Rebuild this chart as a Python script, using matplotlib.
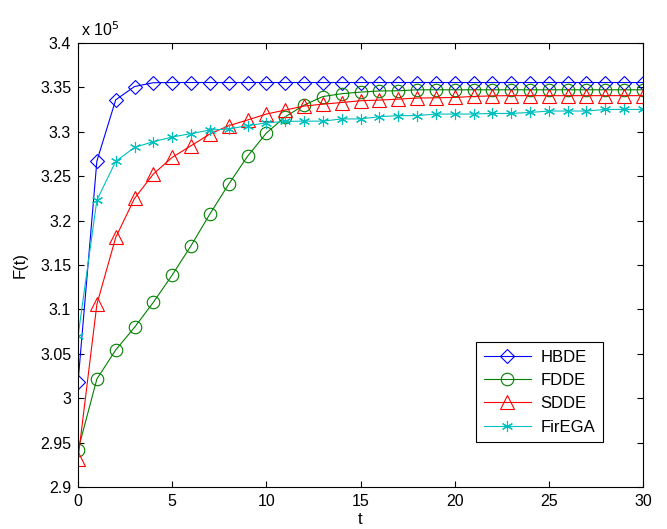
import numpy as np
import matplotlib.pyplot as plt
from matplotlib.ticker import FuncFormatter

plt.rcParams['font.family'] = ['Liberation Sans', 'DejaVu Sans']

# Iterations
t = np.arange(0, 31)

# Best fitness per iteration (units of 1e5)
hbde = [3.018, 3.267, 3.336, 3.351, 3.3553, 3.3555, 3.3555, 3.3555, 3.3555, 3.3555,
        3.3555, 3.3555, 3.3555, 3.3555, 3.3555, 3.3555, 3.3555, 3.3555, 3.3555, 3.3555,
        3.3555, 3.3555, 3.3555, 3.3555, 3.3555, 3.3555, 3.3555, 3.3555, 3.3555, 3.3555, 3.3555]
fdde = [2.9417, 3.0216, 3.0543, 3.0798, 3.108, 3.1387, 3.1717, 3.2074, 3.241, 3.2724,
        3.2986, 3.3169, 3.330, 3.3397, 3.3429, 3.3447, 3.346, 3.3462, 3.3473, 3.3473,
        3.3473, 3.3473, 3.3473, 3.3473, 3.3473, 3.3473, 3.3473, 3.3473, 3.3473, 3.3473, 3.3473]
sdde = [2.932, 3.1057, 3.181, 3.225, 3.2525, 3.2712, 3.2843, 3.2975, 3.3069, 3.3133,
        3.320, 3.3245, 3.329, 3.3311, 3.333, 3.335, 3.3357, 3.3368, 3.338, 3.3383,
        3.3387, 3.3398, 3.3405, 3.3407, 3.3407, 3.3407, 3.3407, 3.3407, 3.3407, 3.3407, 3.3407]
firega = [3.070, 3.223, 3.2667, 3.2824, 3.2889, 3.2941, 3.298, 3.302, 3.3031, 3.307,
          3.310, 3.3117, 3.3120, 3.3120, 3.3145, 3.3145, 3.317, 3.3182, 3.3182, 3.320,
          3.320, 3.320, 3.3207, 3.3207, 3.3218, 3.3234, 3.3234, 3.3234, 3.3252, 3.3252, 3.3252]

scale = 1e5

fig = plt.figure(figsize=(6.67, 5.29), dpi=100)
ax = fig.add_axes([0.117, 0.0794, 0.847, 0.8393])

lw = 0.8
ax.plot(t, np.array(hbde) * scale, color=(0, 0, 1), lw=lw, marker='D', ms=7,
        mfc='none', mec=(0, 0, 1), mew=0.8, label='HBDE')
ax.plot(t, np.array(fdde) * scale, color=(0, 0.5, 0), lw=lw, marker='o', ms=9,
        mfc='none', mec=(0, 0.5, 0), mew=0.8, label='FDDE')
ax.plot(t, np.array(sdde) * scale, color=(1, 0, 0), lw=lw, marker='^', ms=10,
        mfc='none', mec=(1, 0, 0), mew=0.8, label='SDDE')
ax.plot(t, np.array(firega) * scale, color=(0, 0.75, 0.75), lw=lw, marker=(6, 2, 0), ms=8,
        mec=(0, 0.75, 0.75), mew=0.8, label='FirEGA')

ax.set_xlim(0, 30)
ax.set_ylim(2.9 * scale, 3.4 * scale)
ax.set_xticks(np.arange(0, 31, 5))
ax.set_yticks(np.arange(2.9, 3.4001, 0.05) * scale)
ax.yaxis.set_major_formatter(FuncFormatter(lambda v, p: f'{v / scale:g}'))
ax.tick_params(direction='in', top=True, right=True, length=4, labelsize=11.5,
               width=0.8, pad=5)
for s in ax.spines.values():
    s.set_linewidth(0.8)

ax.text(0.005, 1.008, r'x 10$^{5}$', transform=ax.transAxes, fontsize=11.5,
        ha='left', va='bottom')

ax.set_xlabel('t', fontsize=12, labelpad=2)
ax.set_ylabel('F(t)', fontsize=12, labelpad=9)

leg = ax.legend(loc='lower right', bbox_to_anchor=(0.929, 0.101), borderaxespad=0,
                fontsize=12, fancybox=False, edgecolor='black', framealpha=1,
                handlelength=2.8, borderpad=0.45, labelspacing=0.5, handletextpad=0.6)
leg.get_frame().set_linewidth(0.8)

fig.savefig('out.png', dpi=100)
